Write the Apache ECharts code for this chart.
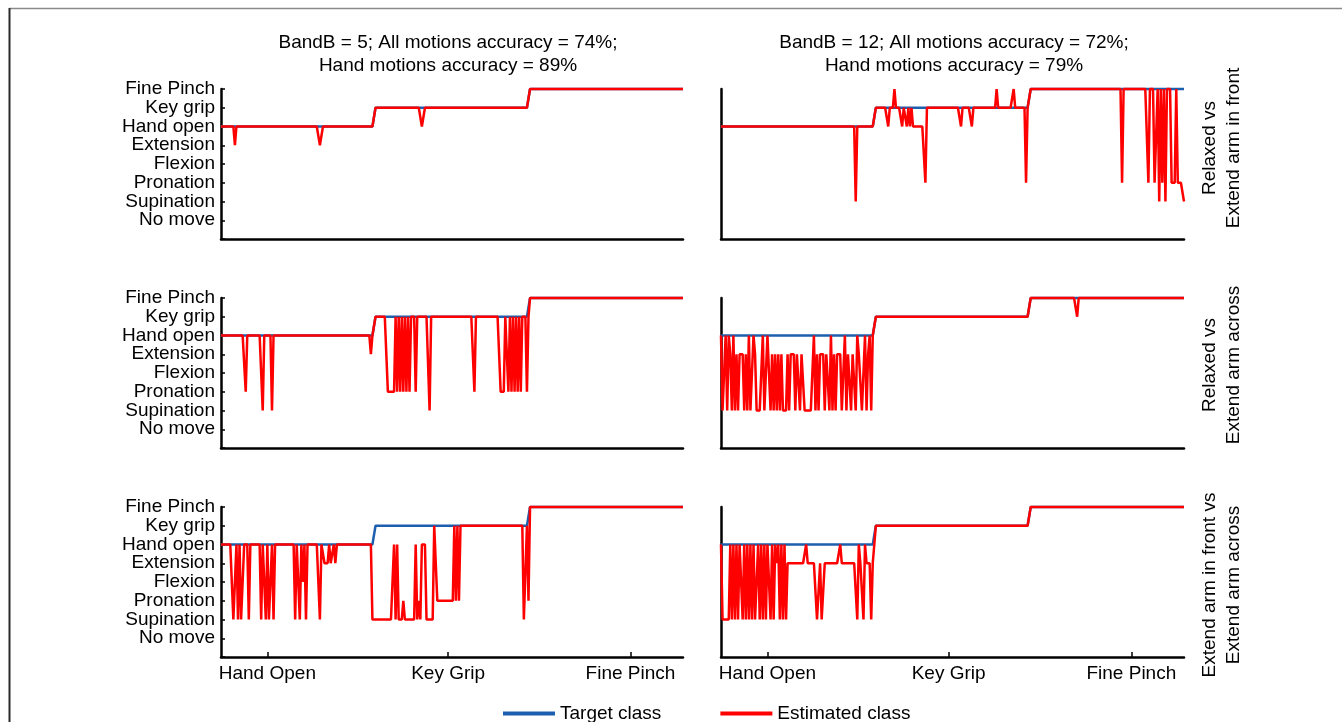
<!DOCTYPE html>
<html><head><meta charset="utf-8">
<script src="https://cdn.jsdelivr.net/npm/echarts@6/dist/echarts.min.js"></script>
<style>html,body{margin:0;padding:0;background:#fff;}#c{width:1342px;height:722px;}</style>
</head><body><div id="c"></div>
<script>
// ---------- data ----------
const classNames = ['No move','Supination','Pronation','Flexion','Extension','Hand open','Key grip','Fine Pinch'];
const xTickLabels = ['Hand Open','Key Grip','Fine Pinch'];
const xTickSamples = [30, 147, 265];
const columnTitles = [
  'BandB = 5; All motions accuracy = 74%;\nHand motions accuracy = 89%',
  'BandB = 12; All motions accuracy = 72%;\nHand motions accuracy = 79%'
];
const rowLabels = [
  'Relaxed vs\nExtend arm in front',
  'Relaxed vs\nExtend arm across',
  'Extend arm in front vs\nExtend arm across'
];
const legendNames = ['Target class', 'Estimated class'];

// one digit per sample = class index (0 = No move ... 7 = Fine Pinch)
const targetClass =
  '5555555555 5555555555 5555555555 5555555555 5555555555 5555555555 5555555555 5555555555 5555555555 5555555555' +
  '6666666666 6666666666 6666666666 6666666666 6666666666 6666666666 6666666666 6666666666 6666666666 6666666666' +
  '7777777777 7777777777 7777777777 7777777777 7777777777 7777777777 7777777777 7777777777 7777777777 7777777777';

// BandB = 5, Relaxed vs Extend arm in front
const estRelaxedFrontB5 =
  '5555555554 5555555555 5555555555 5555555555 5555555555 5555555555 5555445555 5555555555 5555555555 5555555555' +
  '6666666666 6666666666 6666666666 5566666666 6666666666 6666666666 6666666666 6666666666 6666666666 6666666666' +
  '7777777777 7777777777 7777777777 7777777777 7777777777 7777777777 7777777777 7777777777 7777777777 7777777777';
// BandB = 12, Relaxed vs Extend arm in front
const estRelaxedFrontB12 =
  '5555555555 5555555555 5555555555 5555555555 5555555555 5555555555 5555555555 5555555555 5555555155 5555555555' +
  '6666666656 6676666566 5656555555 5526666666 6666666666 6666656666 6656666666 6666666676 6666666667 6666666266' +
  '7777777777 7777777777 7777777777 7777777777 7777777777 7777777772 7777777777 7777772777 2271727177 7222722221';
// BandB = 5, Relaxed vs Extend arm across
const estRelaxedAcrossB5 =
  '5555555555 5555552555 5555555155 5551555555 5555555555 5555555555 5555555555 5555555555 5555555555 5555555455' +
  '6666666622 2226262626 2626662666 6666616666 6666666666 6666666666 6666266666 6666666666 6222662626 2626266626' +
  '7777777777 7777777777 7777777777 7777777777 7777777777 7777777777 7777777777 7777777777 7777777777 7777777777';
// BandB = 12, Relaxed vs Extend arm across
const estRelaxedAcrossB12 =
  '5115154151 4144414151 1541111511 5514141414 1114144414 4144111111 5141444144 1514144411 5144144154 4115145155' +
  '6666666666 6666666666 6666666666 6666666666 6666666666 6666666666 6666666666 6666666666 6666666666 6666666666' +
  '7777777777 7777777777 7777777777 6777777777 7777777777 7777777777 7777777777 7777777777 7777777777 7777777777';
// BandB = 5, Extend arm in front vs Extend arm across
const estFrontAcrossB5 =
  '5555555511 5151155515 5555551551 5115155555 5555555515 5153515555 5555155444 5445455555 5555555555 5555555511' +
  '1111111111 1151511121 1111115121 5551111166 2222222222 2626266666 6666666666 6666666666 6666666666 6666661162' +
  '7777777777 7777777777 7777777777 7777777777 7777777777 7777777777 7777777777 7777777777 7777777777 7777777777';
// BandB = 12, Extend arm in front vs Extend arm across
const estFrontAcrossB12 =
  '5111115151 5155151515 1511515151 5515154515 1514444444 4444454444 4411411444 4444444544 4444444415 4415444144' +
  '6666666666 6666666666 6666666666 6666666666 6666666666 6666666666 6666666666 6666666666 6666666666 6666666666' +
  '7777777777 7777777777 7777777777 7777777777 7777777777 7777777777 7777777777 7777777777 7777777777 7777777777';

const panelEstimates = [estRelaxedFrontB5, estRelaxedFrontB12, estRelaxedAcrossB5, estRelaxedAcrossB12, estFrontAcrossB5, estFrontAcrossB12];

// ---------- build ----------
const parseClasses = s => s.replace(/\s+/g, '').split('').map(Number);
const toPoints = arr => arr.map((v, i) => [i, v]);
const target = parseClasses(targetClass);

const FONT = '"Liberation Sans", Arial, sans-serif';
const BLUE = '#1d5fae', RED = '#ff0000';
const gridLeft = [221, 721], gridWidth = [462, 463], gridTop = [89, 298, 507], gridHeight = 150;
const evenClasses = [0, 2, 4, 6], oddClasses = [1, 3, 5, 7];
const classLabel = v => (v >= 0 && v < classNames.length) ? classNames[Math.round(v)] : '';

const grids = [], xAxes = [], yAxes = [], series = [];
const labelAxes = [];
for (let p = 0; p < 6; p++) {
  const row = Math.floor(p / 2), col = p % 2;
  grids.push({ left: gridLeft[col], top: gridTop[row], width: gridWidth[col], height: gridHeight, containLabel: false });
  xAxes.push({
    type: 'value', gridIndex: p, min: 0, max: target.length - 1,
    axisLine: { show: true, onZero: false, lineStyle: { color: '#000', width: 2.5 } },
    axisTick: { show: row === 2, inside: true, length: 5, customValues: xTickSamples, lineStyle: { color: '#000', width: 1.5 } },
    axisLabel: { show: row === 2, customValues: xTickSamples, margin: 7, fontSize: 19, color: '#000', fontFamily: FONT,
      formatter: v => { const k = xTickSamples.indexOf(Math.round(v)); return k >= 0 ? xTickLabels[k] : ''; } },
    splitLine: { show: false }
  });
  // main axis: line, ticks, even-class labels
  yAxes.push({
    type: 'value', gridIndex: p, position: 'left', min: -1, max: 7, interval: 1,
    axisLine: { show: true, onZero: false, lineStyle: { color: '#000', width: 2.5 } },
    axisTick: { show: col === 0, inside: true, length: 4, lineStyle: { color: '#000', width: 1.5 } },
    axisLabel: { show: col === 0, customValues: evenClasses, showMaxLabel: true, showMinLabel: true, margin: 6,
      fontSize: 19, color: '#000', fontFamily: FONT, formatter: classLabel },
    splitLine: { show: false }
  });
  if (col === 0) {
    // companion axis in the same grid carrying odd-class labels
    labelAxes.push({
      type: 'value', gridIndex: p, position: 'left', min: -1, max: 7, interval: 1,
      axisLine: { show: false }, axisTick: { show: false }, splitLine: { show: false },
      axisLabel: { show: true, customValues: oddClasses, showMaxLabel: true, showMinLabel: true, margin: 6,
        fontSize: 19, color: '#000', fontFamily: FONT, formatter: classLabel }
    });
  }
  series.push({
    name: legendNames[0], type: 'line', xAxisIndex: p, yAxisIndex: p, data: toPoints(target),
    showSymbol: false, symbol: 'none', clip: false, z: 2, silent: true,
    lineStyle: { color: BLUE, width: 2.5 }, itemStyle: { color: BLUE }
  });
  series.push({
    name: legendNames[1], type: 'line', xAxisIndex: p, yAxisIndex: p, data: toPoints(parseClasses(panelEstimates[p])),
    showSymbol: false, symbol: 'none', clip: false, z: 3, silent: true,
    lineStyle: { color: RED, width: 2.5 }, itemStyle: { color: RED }
  });
}

const graphics = [
  { type: 'line', shape: { x1: 9, y1: 8.5, x2: 1342, y2: 8.5 }, style: { stroke: '#8a8a8a', lineWidth: 1.5 }, silent: true },
  { type: 'line', shape: { x1: 9.5, y1: 8, x2: 9.5, y2: 722 }, style: { stroke: '#2a2a2a', lineWidth: 2 }, silent: true }
];
const titleCx = [448, 954];
for (let c = 0; c < 2; c++) {
  graphics.push({ type: 'text', x: titleCx[c], y: 54, silent: true,
    style: { text: columnTitles[c], font: '19px ' + FONT, fill: '#000', align: 'center', verticalAlign: 'middle', lineHeight: 23 } });
}
const rowCy = [148, 365, 585];
for (let r = 0; r < 3; r++) {
  graphics.push({ type: 'text', x: 1222, y: rowCy[r], rotation: Math.PI / 2, silent: true,
    style: { text: rowLabels[r], font: '19px ' + FONT, fill: '#000', align: 'center', verticalAlign: 'middle', lineHeight: 24 } });
}

const chart = echarts.init(document.getElementById('c'), null, { renderer: 'canvas' });
chart.setOption({
  animation: false,
  backgroundColor: '#fff',
  grid: grids, xAxis: xAxes, yAxis: yAxes.concat(labelAxes), series: series,
  legend: {
    data: legendNames, left: 498, top: 699, icon: 'rect', itemWidth: 52, itemHeight: 4, itemGap: 59,
    selectedMode: false, textStyle: { fontSize: 19, color: '#000', fontFamily: FONT }
  },
  graphic: graphics
});
</script>
</body></html>
